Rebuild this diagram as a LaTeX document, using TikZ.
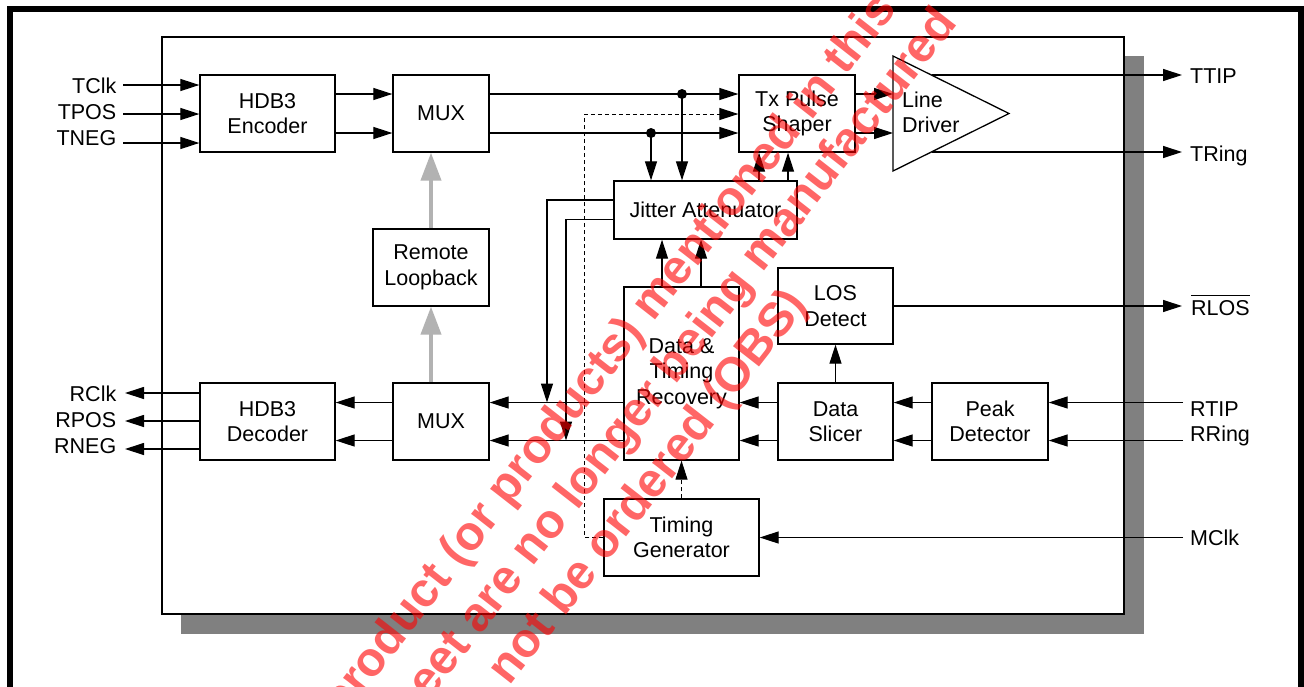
\documentclass[tikz,border=0pt]{standalone}
\usepackage{fontspec}
\setmainfont{Liberation Sans}
\usetikzlibrary{arrows.meta,calc}
\begin{document}
\begin{tikzpicture}[x=1pt,y=-1pt,
  blk/.style={draw, line width=1.3pt, fill=white, align=center, inner sep=0pt, font=\fontsize{21.5}{25.5}\selectfont},
  lbl/.style={inner sep=0pt, text height=15pt, text depth=0pt, font=\fontsize{21.5}{25.5}\selectfont},
  conn/.style={line width=1.2pt, -{Triangle[length=19pt,width=12pt]}},
  dconn/.style={line width=1pt, dash pattern=on 4pt off 3pt, -{Triangle[length=19pt,width=12pt]}},
  garrow/.style={line width=4pt, draw=black!30, -{Triangle[length=28pt,width=20pt]}},
  dot/.style={circle, fill=black, inner sep=0pt, minimum size=10pt},
  wm/.style={text=red, text opacity=0.6, inner sep=0pt, anchor=base west, rotate=52, font=\fontsize{48}{48}\selectfont\bfseries}
]
\useasboundingbox (0,0) rectangle (1304,686);
\clip (0,0) rectangle (1304,686);

% frame, shadow, chip
\draw[line width=6pt] (9.5,9) rectangle (1300.5,720);
\fill[black!50] (181,56) rectangle (1144,634);
\draw[line width=1.5pt, fill=white] (162,37) rectangle (1124,614);

% blocks
\node[blk, minimum width=135pt, minimum height=77pt] (enc) at (267.5,113.5) {HDB3\\Encoder};
\node[blk, minimum width=96pt, minimum height=77pt] (muxT) at (441,113.5) {MUX};
\node[blk, minimum width=116pt, minimum height=77pt] (tps) at (797,113.5) {Tx Pulse\\Shaper};
\node[blk, minimum width=183pt, minimum height=58pt] (ja) at (705.5,210) {Jitter Attenuator};
\node[blk, minimum width=116pt, minimum height=77pt] (rl) at (431,267.5) {Remote\\Loopback};
\node[blk, minimum width=115pt, minimum height=173pt] (dtr) at (681.5,373.5) {Data \&\\Timing\\Recovery};
\node[blk, minimum width=115pt, minimum height=76pt] (los) at (835.5,306) {LOS\\Detect};
\node[blk, minimum width=135pt, minimum height=77pt] (dec) at (267.5,421.5) {HDB3\\Decoder};
\node[blk, minimum width=96pt, minimum height=77pt] (muxB) at (441,421.5) {MUX};
\node[blk, minimum width=115pt, minimum height=77pt] (ds) at (835.5,421.5) {Data\\Slicer};
\node[blk, minimum width=116pt, minimum height=77pt] (pd) at (990,421.5) {Peak\\Detector};
\node[blk, minimum width=155pt, minimum height=77pt] (tg) at (681.5,537.5) {Timing\\Generator};

% line driver
\coordinate (ldA) at (893,56);
\coordinate (ldB) at (893,171);
\coordinate (ldC) at (1009,113.5);
\draw[line width=1.3pt, fill=white] (ldA) -- (ldB) -- (ldC) -- cycle;
\node[inner sep=0pt, anchor=west, align=left, font=\fontsize{21.5}{25.5}\selectfont] (ldtxt) at (902,112.5) {Line\\Driver};

% level coordinates
\coordinate (yA) at (0,94);
\coordinate (yB) at (0,133);
\coordinate (yD) at (0,114);
\coordinate (rA) at (0,402.5);
\coordinate (rB) at (0,440.5);

% left labels
\node[lbl,anchor=east] (tclk) at (116.5,86) {TClk};
\node[lbl,anchor=east] (tpos) at (116.5,112) {TPOS};
\node[lbl,anchor=east] (tneg) at (116.5,138) {TNEG};
\node[lbl,anchor=east] (rclk) at (116.5,394) {RClk};
\node[lbl,anchor=east] (rpos) at (116.5,420) {RPOS};
\node[lbl,anchor=east] (rneg) at (116.5,446) {RNEG};
% right labels
\node[lbl,anchor=west] (ttip) at (1190,76) {TTIP};
\node[lbl,anchor=west] (tring) at (1190,154) {TRing};
\node[lbl,anchor=west] (rlos) at (1191,308) {RLOS};
\draw[line width=1.2pt] ([yshift=5pt]rlos.north west) -- ([yshift=5pt]rlos.north east);
\node[lbl,anchor=west] (rtip) at (1190,409) {RTIP};
\node[lbl,anchor=west] (rring) at (1190,434) {RRing};
\node[lbl,anchor=west] (mclk) at (1190,538) {MClk};

% connector end points
\coordinate (iA) at (123,85);
\coordinate (iB) at (123,114);
\coordinate (iC) at (123,143);
\coordinate (oA) at (125,393);
\coordinate (oB) at (125,421);
\coordinate (oC) at (125,449);
\coordinate (ttipS) at (931.5,75);
\coordinate (ttipE) at (1182,75);
\coordinate (tringS) at (931.5,152);
\coordinate (tringE) at (1182,152);
\coordinate (rlosE) at (1182,306);
\coordinate (rtipS) at (1183,402.5);
\coordinate (rringS) at (1183,440.5);
\coordinate (mclkS) at (1183,537.5);

% transmit path
\draw[conn] (iA) -- (iA -| enc.west);
\draw[conn] (iB) -- (iB -| enc.west);
\draw[conn] (iC) -- (iC -| enc.west);
\draw[conn] (enc.east |- yA) -- (muxT.west |- yA);
\draw[conn] (enc.east |- yB) -- (muxT.west |- yB);
\draw[conn] (muxT.east |- yA) -- (tps.west |- yA);
\draw[conn] (muxT.east |- yB) -- (tps.west |- yB);
\node[dot] (d1) at (682,94) {};
\node[dot] (d2) at (651,133) {};
\draw[conn] (d1.center) -- (d1 |- ja.north);
\draw[conn] (d2.center) -- (d2 |- ja.north);
\draw[conn] (ja.north -| 759,0) -- (tps.south -| 759,0);
\draw[conn] (ja.north -| 788,0) -- (tps.south -| 788,0);
\draw[conn] (tps.east |- yA) -- (ldA |- yA);
\draw[conn] (tps.east |- yB) -- (ldA |- yB);
\draw[conn] (ttipS) -- (ttipE);
\draw[conn] (tringS) -- (tringE);

% jitter attenuator to receive mux
\draw[conn] (ja.west |- 0,200) -| (547,0 |- rA);
\draw[conn] (ja.west |- 0,219.5) -| (566,0 |- rB);

% receive path
\draw[conn] (rtipS) -- (pd.east |- rtipS);
\draw[conn] (rringS) -- (pd.east |- rringS);
\draw[conn] (pd.west |- rA) -- (ds.east |- rA);
\draw[conn] (pd.west |- rB) -- (ds.east |- rB);
\draw[conn] (ds.west |- rA) -- (dtr.east |- rA);
\draw[conn] (ds.west |- rB) -- (dtr.east |- rB);
\draw[conn] (dtr.west |- rA) -- (muxB.east |- rA);
\draw[conn] (dtr.west |- rB) -- (muxB.east |- rB);
\draw[conn] (muxB.west |- rA) -- (dec.east |- rA);
\draw[conn] (muxB.west |- rB) -- (dec.east |- rB);
\draw[conn] (dec.west |- oA) -- (oA);
\draw[conn] (dec.west |- oB) -- (oB);
\draw[conn] (dec.west |- oC) -- (oC);
\draw[conn] (dtr.north -| 662,0) -- (ja.south -| 662,0);
\draw[conn] (dtr.north -| 701,0) -- (ja.south -| 701,0);
\draw[conn] (ds.north) -- (los.south);
\draw[conn] (los.east) -- (rlosE);
\draw[conn] (mclkS) -- (tg.east);

% timing generator dashed
\draw[dconn] (tg.north) -- (tg.north |- dtr.south);
\draw[dconn] (tg.west) -- ++(-18.5,0) |- (tps.west |- yD);

% remote loopback gray arrows
\draw[garrow] (rl.north) -- (rl.north |- muxT.south);
\draw[garrow] (rl.south |- muxB.north) -- (rl.south);

% watermark
\node[wm] (wm1) at (343,720.1) {product (or products) mentioned in this};
\node[wm] (wm2) at (394.9,744.6) {sheet are no longer being manufactured};
\node[wm] (wm3) at (509.8,687.1) {not be ordered (OBS)};
\end{tikzpicture}
\end{document}
